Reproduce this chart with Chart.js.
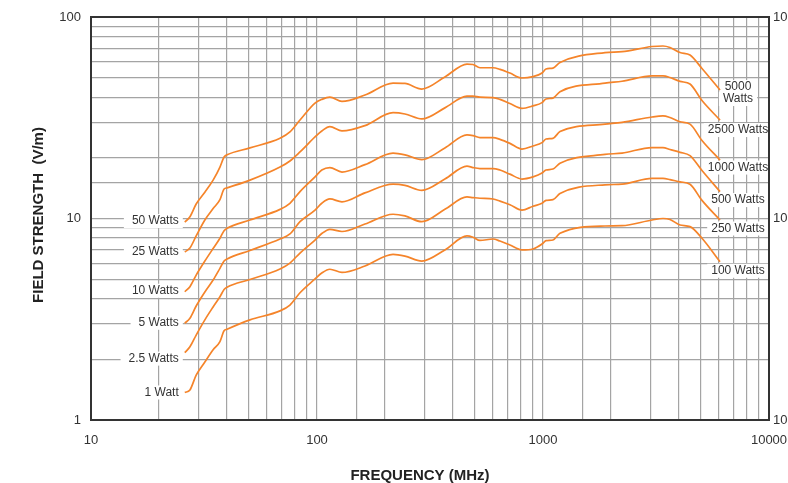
<!DOCTYPE html>
<html><head><meta charset="utf-8">
<script src="https://cdn.jsdelivr.net/npm/chart.js@4.4.1/dist/chart.umd.min.js"></script>
<style>html,body{margin:0;padding:0;background:#fff;}canvas{display:block;}</style>
</head><body>
<canvas id="c" width="788" height="483"></canvas>
<script>
// Frequency (MHz) sample points shared by all curves
const frequencies = [26, 27.4, 29.2, 31.9, 34.7, 37.2, 38.8, 40, 50.5, 68.6, 75.9, 84.1, 98, 105, 114, 129, 163, 217, 245, 291, 368, 461, 490, 526, 601, 645, 714, 807, 903, 990, 1031, 1107, 1189, 1881, 2237, 3036, 3396, 3647, 4039, 4471, 5052, 6070];
// Field strength (V/m) per curve
const curve50W = [9.6, 10.2, 11.8, 13.5, 15.5, 18.0, 20.2, 20.7, 22.4, 25.0, 26.9, 30.8, 37.4, 39.0, 40.0, 38.1, 41.0, 47.0, 46.8, 43.9, 50.4, 58.4, 58.1, 56.0, 56.0, 55.0, 52.7, 49.8, 50.6, 52.7, 55.2, 55.8, 59.5, 66.6, 67.3, 71.4, 71.8, 70.6, 66.6, 64.8, 55.5, 43.4];
const curve25W = [6.82, 7.14, 8.19, 9.83, 11.2, 12.4, 14.0, 14.2, 15.5, 18.0, 19.3, 21.4, 25.4, 27.2, 28.6, 27.2, 28.9, 33.5, 33.0, 31.2, 35.4, 40.5, 40.5, 40.0, 39.8, 39.0, 37.2, 35.2, 36.2, 37.6, 39.2, 39.6, 42.6, 47.0, 48.0, 51.0, 51.0, 50.1, 47.9, 46.5, 38.5, 30.8];
const curve10W = [4.33, 4.59, 5.24, 6.15, 7.10, 7.98, 8.70, 8.94, 9.83, 11.1, 11.9, 13.6, 16.1, 17.4, 17.9, 17.0, 18.5, 21.1, 20.7, 19.6, 22.4, 26.0, 25.8, 25.2, 25.2, 24.7, 23.6, 22.1, 22.9, 23.8, 24.8, 25.0, 27.0, 29.4, 30.0, 31.9, 32.3, 31.7, 30.2, 29.4, 24.4, 19.5];
const curve5W = [3.02, 3.20, 3.68, 4.32, 4.95, 5.66, 6.15, 6.30, 6.94, 7.91, 8.38, 9.64, 11.0, 11.9, 12.5, 12.1, 13.4, 14.8, 14.6, 13.8, 15.7, 18.2, 17.9, 17.7, 17.7, 17.4, 16.6, 15.7, 16.1, 16.8, 17.4, 17.6, 18.8, 20.8, 21.1, 22.5, 22.5, 22.0, 21.3, 20.5, 17.3, 13.6];
const curve2_5W = [2.16, 2.31, 2.64, 3.14, 3.64, 4.09, 4.44, 4.56, 4.98, 5.62, 6.01, 6.74, 7.82, 8.42, 8.84, 8.62, 9.39, 10.5, 10.3, 9.64, 11.1, 12.8, 12.7, 12.6, 12.5, 12.2, 11.7, 11.0, 11.5, 11.9, 12.3, 12.4, 13.3, 14.7, 14.8, 15.8, 15.8, 15.6, 15.2, 14.8, 12.3, 9.83];
const curve1W = [1.37, 1.41, 1.67, 1.94, 2.23, 2.45, 2.77, 2.82, 3.14, 3.48, 3.72, 4.28, 5.01, 5.36, 5.60, 5.40, 5.81, 6.64, 6.51, 6.15, 6.98, 8.19, 8.07, 7.78, 7.91, 7.73, 7.39, 6.98, 7.06, 7.47, 7.76, 7.82, 8.44, 9.18, 9.21, 9.83, 10.0, 9.89, 9.28, 9.11, 7.98, 6.10];

const leftLabels = ['50 Watts', '25 Watts', '10 Watts', '5 Watts', '2.5 Watts', '1 Watt'];
const rightLabels = [['5000', 'Watts'], ['2500 Watts'], ['1000 Watts'], ['500 Watts'], ['250 Watts'], ['100 Watts']];
const xTickValues = [10, 100, 1000, 10000];
const yTickValues = [1, 10, 100];
const rightTickLabels = ['10', '100', '1000'];
const xTitle = 'FREQUENCY (MHz)';
const yTitle = 'FIELD STRENGTH  (V/m)';

const series = [curve50W, curve25W, curve10W, curve5W, curve2_5W, curve1W];

// label placement offsets (pixels) relative to curve ends
const leftDy = [-1, 0, -1, -0.5, 6, 0];
const rightDy = [[-3, 9], [10], [7.5], [8.5], [8.5], [9]];

const FONT = '"Liberation Sans", Arial, Helvetica, sans-serif';
const ORANGE = '#f5842a';
const GRID = '#a4a4a4';

const datasets = series.map((vals, i) => ({
  label: leftLabels[i],
  data: frequencies.map((f, j) => ({x: f, y: vals[j]})),
  borderColor: ORANGE,
  borderWidth: 1.7,
  pointRadius: 0,
  fill: false,
  cubicInterpolationMode: 'monotone'
}));

const annot = {
  id: 'annot',
  beforeDatasetsDraw(chart) {
    const ctx = chart.ctx, xs = chart.scales.x, ys = chart.scales.y;
    ctx.save();
    ctx.font = '12px ' + FONT;
    ctx.textBaseline = 'middle';
    series.forEach((vals, i) => {
      const x0 = xs.getPixelForValue(frequencies[0]) - 6;
      const y0 = ys.getPixelForValue(vals[0]) + leftDy[i];
      const w0 = ctx.measureText(leftLabels[i]).width;
      ctx.fillStyle = '#fff';
      ctx.fillRect(x0 - w0 - 8, y0 - 7, w0 + 12, 14);
      ctx.fillStyle = '#333';
      ctx.textAlign = 'right';
      ctx.fillText(leftLabels[i], x0, y0);
      const n = frequencies.length - 1;
      const x1 = xs.getPixelForValue(frequencies[n]) + 18;
      const y1 = ys.getPixelForValue(vals[n]);
      rightLabels[i].forEach((t, k) => {
        const w = ctx.measureText(t).width;
        const yy = y1 + rightDy[i][k];
        ctx.fillStyle = '#fff';
        ctx.fillRect(x1 - w / 2 - 4, yy - 7, w + 8, 14);
        ctx.fillStyle = '#333';
        ctx.textAlign = 'center';
        ctx.fillText(t, x1, yy);
      });
    });
    ctx.restore();
  },
  afterDraw(chart) {
    const ctx = chart.ctx, a = chart.chartArea;
    ctx.save();
    ctx.strokeStyle = '#333';
    ctx.lineWidth = 2;
    ctx.strokeRect(a.left, a.top, a.right - a.left, a.bottom - a.top);
    ctx.fillStyle = '#222';
    ctx.font = 'bold 15px ' + FONT;
    ctx.textAlign = 'center';
    ctx.textBaseline = 'middle';
    ctx.fillText(xTitle, 420, 476);
    ctx.translate(39, 215);
    ctx.rotate(-Math.PI / 2);
    ctx.fillText(yTitle, 0, 0);
    ctx.restore();
  }
};

new Chart(document.getElementById('c'), {
  type: 'line',
  data: {datasets},
  options: {
    responsive: false,
    animation: false,
    devicePixelRatio: 1,
    layout: {padding: {top: 17, left: 0, right: 0, bottom: 0}},
    plugins: {legend: {display: false}, tooltip: {enabled: false}},
    scales: {
      x: {
        type: 'logarithmic', min: 10, max: 10000,
        grid: {color: GRID, lineWidth: 1.2, drawTicks: false},
        border: {display: false},
        ticks: {
          autoSkip: false, maxRotation: 0, padding: 13, color: '#333',
          font: {size: 13, family: FONT},
          callback: (v) => xTickValues.includes(v) ? String(v) : ''
        },
        afterFit: (s) => { s.height = 63; s.paddingLeft = 0; s.paddingRight = 0; }
      },
      y: {
        type: 'logarithmic', min: 1, max: 100, position: 'left',
        grid: {color: GRID, lineWidth: 1.2, drawTicks: false},
        border: {display: false},
        ticks: {
          autoSkip: false, padding: 10, color: '#333',
          font: {size: 13, family: FONT},
          callback: (v) => yTickValues.includes(v) ? String(v) : ''
        },
        afterFit: (s) => { s.width = 91; s.paddingTop = 0; s.paddingBottom = 0; }
      },
      y2: {
        type: 'logarithmic', min: 1, max: 100, position: 'right',
        grid: {display: false, drawTicks: false},
        border: {display: false},
        ticks: {
          autoSkip: false, padding: 4, color: '#333',
          font: {size: 13, family: FONT},
          callback: (v) => { const k = yTickValues.indexOf(v); return k >= 0 ? rightTickLabels[k] : ''; }
        },
        afterFit: (s) => { s.width = 19; s.paddingTop = 0; s.paddingBottom = 0; }
      }
    }
  },
  plugins: [annot]
});
</script>
</body></html>
